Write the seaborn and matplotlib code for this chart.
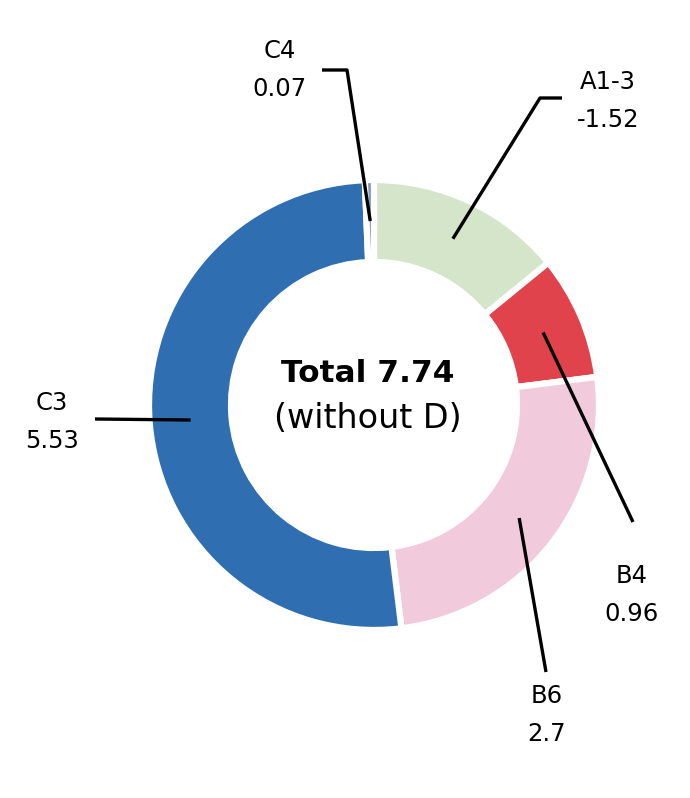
import numpy as np
import seaborn as sns
import matplotlib.pyplot as plt

# values per class (pie uses absolute size, label shows signed value)
labels = ["A1-3", "B4", "B6", "C3", "C4"]
values = [-1.52, 0.96, 2.7, 5.53, 0.07]
colors = ["#d5e5c9", "#e1434c", "#f1cadb", "#2f6eb0", "#7d98c4"]
total_text = "Total 7.74"
sub_text = "(without D)"

sns.set_theme(style="white")
plt.rcParams['font.family'] = ['DejaVu Sans']

W, H = 690, 798
fig = plt.figure(figsize=(W / 100, H / 100), dpi=100)
ax = fig.add_axes([0, 0, 1, 1])

cx, cy = 374, H - 405
R = 225
ring = 82

sizes = np.abs(values)
wedges, _ = ax.pie(sizes, colors=colors, startangle=90, counterclock=False,
                   center=(cx, cy), radius=R, frame=True,
                   wedgeprops=dict(width=ring, edgecolor="white", linewidth=4.5))

ax.set_xlim(0, W)
ax.set_ylim(0, H)
ax.set_aspect("equal")
ax.axis("off")

# leader line end points and label centres (pixel coords from top)
elbows = [[(540, 98), (562, 98)], [(633, 522)], [(546, 672)], [(95, 419)], [(347, 70), (322, 70)]]
text_pos = [(608, 101), (632, 595), (547, 715), (52, 422), (280, 70)]

r_mid = R - ring / 2
for w, lab, val, pts, tp in zip(wedges, labels, values, elbows, text_pos):
    ang = np.deg2rad((w.theta1 + w.theta2) / 2)
    xs = [cx + r_mid * np.cos(ang)] + [p[0] for p in pts]
    ys = [cy + r_mid * np.sin(ang)] + [H - p[1] for p in pts]
    ax.plot(xs, ys, color="black", lw=2.4, solid_capstyle="butt")
    ax.text(tp[0], H - tp[1], f"{lab}\n{val:g}", ha="center", va="center",
            fontsize=17.5, linespacing=1.7, color="black")

ax.text(368, H - 374, total_text, ha="center", va="center", fontsize=22.5,
        fontweight="bold", color="black")
ax.text(368, H - 419, sub_text, ha="center", va="center", fontsize=24,
        color="black")

fig.savefig("out.png", dpi=100)
